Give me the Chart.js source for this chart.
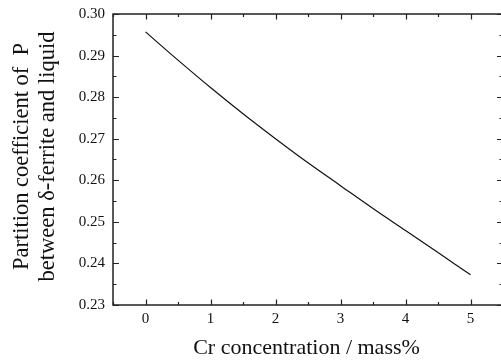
<!DOCTYPE html>
<html>
<head>
<meta charset="utf-8">
<script src="https://cdn.jsdelivr.net/npm/chart.js@4/dist/chart.umd.min.js"></script>
<style>
html,body{margin:0;padding:0;background:#fff;overflow:hidden;width:501px;height:360px;}
#wrap{width:503px;height:360px;}
</style>
</head>
<body>
<div id="wrap"><canvas id="c" width="503" height="360"></canvas></div>
<script>
const crConcentration = [0, 0.5, 1, 1.5, 2, 2.5, 3, 3.5, 4, 4.5, 5];
const partitionCoeff = [0.2957, 0.2889, 0.2823, 0.2760, 0.2700, 0.2642, 0.2587, 0.2532, 0.2479, 0.2426, 0.2373];
const xTickValues = [0, 1, 2, 3, 4, 5];
const xMinorTicks = [-0.5, 0.5, 1.5, 2.5, 3.5, 4.5, 5.5];
const yTickValues = [0.23, 0.24, 0.25, 0.26, 0.27, 0.28, 0.29, 0.30];
const yMinorTicks = [0.235, 0.245, 0.255, 0.265, 0.275, 0.285, 0.295];
const xTitle = 'Cr concentration / mass%';
const yTitleLines = ['Partition coefficient of  P', 'between \u03b4-ferrite and liquid'];

const FONT = '"Liberation Serif", "Times New Roman", serif';

const framePlugin = {
  id: 'frame',
  beforeLayout(chart) {},
  afterDraw(chart) {
    const ctx = chart.ctx;
    const a = chart.chartArea;
    const xs = chart.scales.x, ys = chart.scales.y;
    ctx.save();
    ctx.strokeStyle = '#222';
    ctx.lineWidth = 1.5;
    ctx.strokeRect(a.left, a.top, a.right - a.left, a.bottom - a.top);
    ctx.lineWidth = 1.2;
    ctx.beginPath();
    const tick = (len, isX, v) => {
      if (isX) {
        const p = Math.round(xs.getPixelForValue(v)) + 0.5;
        ctx.moveTo(p, a.bottom); ctx.lineTo(p, a.bottom - len);
        ctx.moveTo(p, a.top); ctx.lineTo(p, a.top + len);
      } else {
        const p = Math.round(ys.getPixelForValue(v)) + 0.5;
        ctx.moveTo(a.left, p); ctx.lineTo(a.left + len, p);
        ctx.moveTo(a.right, p); ctx.lineTo(a.right - len, p);
      }
    };
    xTickValues.forEach(v => tick(5.5, true, v));
    xMinorTicks.forEach(v => tick(3, true, v));
    yTickValues.forEach(v => tick(6, false, v));
    yMinorTicks.forEach(v => tick(3.5, false, v));
    ctx.stroke();

    ctx.fillStyle = '#111';
    ctx.font = '22px ' + FONT;
    ctx.textAlign = 'center';
    ctx.textBaseline = 'middle';
    ctx.fillText(xTitle, (a.left + a.right) / 2 - 1.5, 348);
    ctx.font = '22.5px ' + FONT;
    const cy = (a.top + a.bottom) / 2 - 3;
    ctx.translate(0, cy);
    ctx.rotate(-Math.PI / 2);
    ctx.fillText(yTitleLines[0], 0, 22);
    ctx.fillText(yTitleLines[1], 0, 48);
    ctx.restore();
  }
};

new Chart(document.getElementById('c'), {
  type: 'scatter',
  data: {
    datasets: [{
      data: crConcentration.map((x, i) => ({x: x, y: partitionCoeff[i]})),
      showLine: true,
      borderColor: '#111',
      borderWidth: 1.2,
      pointRadius: 0,
      cubicInterpolationMode: 'monotone',
      fill: false
    }]
  },
  options: {
    responsive: false,
    animation: false,
    devicePixelRatio: 1,
    layout: {padding: {top: 14, right: 0, left: 0, bottom: 0}},
    plugins: {legend: {display: false}, tooltip: {enabled: false}},
    scales: {
      x: {
        type: 'linear', min: -0.5, max: 5.5,
        afterBuildTicks: s => { s.ticks = xTickValues.map(v => ({value: v})); },
        afterFit: s => { s.height = 55; s.paddingLeft = 0; s.paddingRight = 0; },
        grid: {display: false, drawTicks: false},
        border: {display: false},
        ticks: {color: '#111', font: {family: FONT, size: 15}, padding: 5}
      },
      y: {
        type: 'linear', min: 0.23, max: 0.30,
        afterBuildTicks: s => { s.ticks = yTickValues.map(v => ({value: v})); },
        afterFit: s => { s.width = 113; s.paddingTop = 0; s.paddingBottom = 0; },
        grid: {display: false, drawTicks: false},
        border: {display: false},
        ticks: {color: '#111', font: {family: FONT, size: 15}, padding: 8,
          callback: v => Number(v).toFixed(2)}
      }
    }
  },
  plugins: [framePlugin]
});
</script>
</body>
</html>
